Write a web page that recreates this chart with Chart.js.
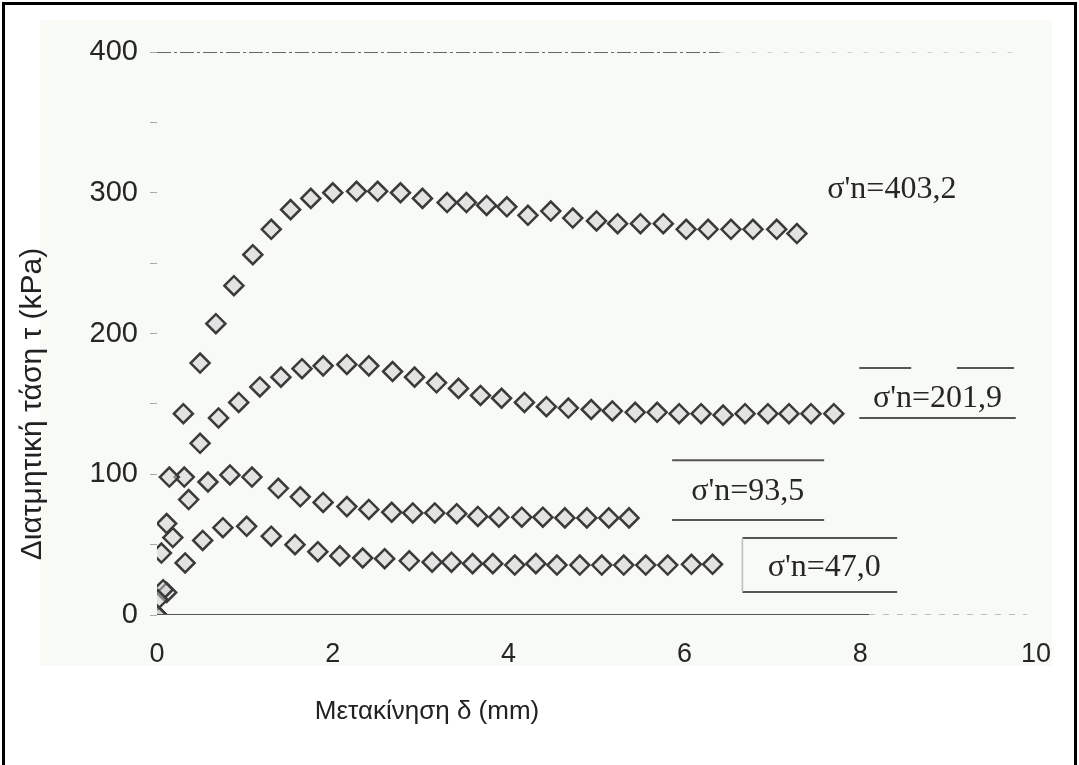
<!DOCTYPE html>
<html>
<head>
<meta charset="utf-8">
<script src="https://cdn.jsdelivr.net/npm/chart.js"></script>
<style>
body{margin:0;background:#fff;overflow:hidden;}
canvas{display:block;}
</style>
</head>
<body>
<canvas id="c" width="1079" height="765"></canvas>
<script>
// displacement (mm) and shear stress (kPa), one pair of arrays per test
let s403x=[0,0.05,0.14,0.30,0.49,0.67,0.875,1.09,1.30,1.52,1.75,2.0,2.27,2.51,2.77,3.02,3.30,3.52,3.75,3.98,4.22,4.48,4.73,5.0,5.24,5.5,5.76,6.02,6.27,6.53,6.78,7.05,7.28];
let s403y=[0,44,98,143,179,207,234,256,274,288,296,300,301,301,300,296,293,293,291,290,284,287,282,280,278,278,278,274,274,274,274,274,271];

let s202x=[0,0.01,0.11,0.31,0.49,0.70,0.93,1.17,1.41,1.65,1.89,2.16,2.41,2.68,2.93,3.18,3.43,3.68,3.92,4.18,4.43,4.68,4.94,5.18,5.44,5.69,5.94,6.19,6.44,6.69,6.95,7.19,7.44,7.70];
let s202y=[0,11,65,98,122,140,151,162,169,175,177,178,177,173,169,165,161,156,154,151,148,147,146,145,144,144,143,143,142,143,143,143,143,143];

let s94x=[0,0.07,0.18,0.36,0.58,0.83,1.08,1.38,1.63,1.89,2.16,2.41,2.67,2.91,3.16,3.41,3.65,3.89,4.15,4.39,4.64,4.89,5.14,5.37];
let s94y=[0,18,55,82,94.5,99.5,98,90,84,80,77,75,73,72.5,72.5,72,70,69.5,69.5,69.5,69,69,69,69];

let s47x=[0,0.11,0.32,0.52,0.75,1.02,1.30,1.57,1.83,2.08,2.34,2.59,2.87,3.13,3.35,3.59,3.82,4.07,4.31,4.55,4.81,5.06,5.31,5.56,5.81,6.08,6.32];
let s47y=[0,16,37,53,62,63,56,50,45,42,40.5,40,38.5,37.5,37.5,36.5,36.5,35.5,36.5,35.5,35.5,35.5,35.5,35.5,35.5,36,36];

let xTicks=[0,2,4,6,8,10];
let yTicks=[0,100,200,300,400];

// curve labels: text, x, y (data units)
let labelText=["σ'n=403,2","σ'n=201,9","σ'n=93,5","σ'n=47,0"];
let labelX=[8.36,8.88,6.72,7.59];
let labelY=[302,154,88,33.5];

// rules round the labels: x1, x2, y (data units)
let ruleX1=[7.99,9.10,7.99,5.86,5.86,6.66,6.66];
let ruleX2=[8.58,9.75,9.77,7.59,7.59,8.42,8.42];
let ruleY=[175.5,175.5,140,110,67.5,54.7,16.3];

function pts(xs,ys){
return xs.map((x,i)=>({x:x,y:ys[i]}));
}

function series(xs,ys){
return {
data:pts(xs,ys),
showLine:false,
pointStyle:'rectRot',
pointRadius:9.5,
pointBorderWidth:2.5,
pointBorderColor:'#3a3a3a',
pointBackgroundColor:'rgba(205,205,205,0.5)'
};
}

function rule(xs,ys,color,dash,width){
return {
type:'line',
data:pts(xs,ys),
borderColor:color,
borderWidth:width,
borderDash:dash,
pointRadius:0,
showLine:true
};
}

let deco={
id:'deco',
beforeDraw(chart){
let ctx=chart.ctx;
ctx.save();
ctx.fillStyle='#f8faf6';
ctx.fillRect(40,20,1012,646);
ctx.restore();
},
afterDatasetsDraw(chart){
let ctx=chart.ctx;
let sx=chart.scales.x, sy=chart.scales.y;
ctx.save();
ctx.strokeStyle='#555';
ctx.lineWidth=2;
for(let i=0;i<ruleX1.length;i++){
ctx.beginPath();
ctx.moveTo(sx.getPixelForValue(ruleX1[i]),sy.getPixelForValue(ruleY[i]));
ctx.lineTo(sx.getPixelForValue(ruleX2[i]),sy.getPixelForValue(ruleY[i]));
ctx.stroke();
}
// left side of the 47,0 box
ctx.strokeStyle='#bbb';
ctx.lineWidth=1.5;
ctx.beginPath();
ctx.moveTo(sx.getPixelForValue(ruleX1[5]),sy.getPixelForValue(ruleY[5]));
ctx.lineTo(sx.getPixelForValue(ruleX1[5]),sy.getPixelForValue(ruleY[6]));
ctx.stroke();

ctx.fillStyle='#262626';
ctx.font='32px "Liberation Serif", "Times New Roman", serif';
ctx.textAlign='center';
ctx.textBaseline='middle';
labelText.forEach((t,i)=>{
ctx.fillText(t,sx.getPixelForValue(labelX[i]),sy.getPixelForValue(labelY[i]));
});

ctx.font='26px "Liberation Sans", Arial, sans-serif';
ctx.fillStyle='#222';
ctx.fillText('Μετακίνηση δ (mm)',427,712);
ctx.font='30px "Liberation Sans", Arial, sans-serif';
ctx.translate(33,404);
ctx.rotate(-Math.PI/2);
ctx.fillText('Διατμητική τάση τ (kPa)',0,0);
ctx.restore();

ctx.save();
ctx.fillStyle='#000';
ctx.fillRect(2,2,1075,3);
ctx.fillRect(2,2,3,763);
ctx.fillRect(1074,2,3,763);
ctx.restore();
}
};

new Chart(document.getElementById('c'),{
type:'scatter',
data:{
datasets:[
rule([0,6.4],[400,400],'#666',[14,3,3,3],2),
rule([6.4,9.8],[400,400],'#ccc',[4,12],2),
rule([0,8.1],[0,0],'#555',[],2),
rule([8.1,9.9],[0,0],'#bbb',[6,8],2),
series(s403x,s403y),
series(s202x,s202y),
series(s94x,s94y),
series(s47x,s47y)
]
},
options:{
responsive:false,
animation:false,
devicePixelRatio:1,
layout:{padding:{left:0,right:43,top:52,bottom:0}},
plugins:{legend:{display:false},tooltip:{enabled:false}},
scales:{
x:{
type:'linear',
min:0,max:10,
afterFit:s=>{s.height=150;},
afterBuildTicks:s=>{s.ticks=xTicks.map(v=>({value:v}));},
border:{display:false},
grid:{display:false},
ticks:{padding:15,color:'#262626',font:{family:'"Liberation Sans", Arial, sans-serif',size:27}}
},
y:{
type:'linear',
min:0,max:400,
afterFit:s=>{s.width=157;},
afterBuildTicks:s=>{s.ticks=[0,50,100,150,200,250,300,350,400].map(v=>({value:v}));},
border:{display:false},
grid:{drawOnChartArea:false,drawTicks:true,tickLength:7,color:'#aaa'},
ticks:{padding:12,color:'#262626',font:{family:'"Liberation Sans", Arial, sans-serif',size:29},
callback:v=>yTicks.includes(v)?String(v):''}
}
}
},
plugins:[deco]
});
</script>
</body>
</html>
